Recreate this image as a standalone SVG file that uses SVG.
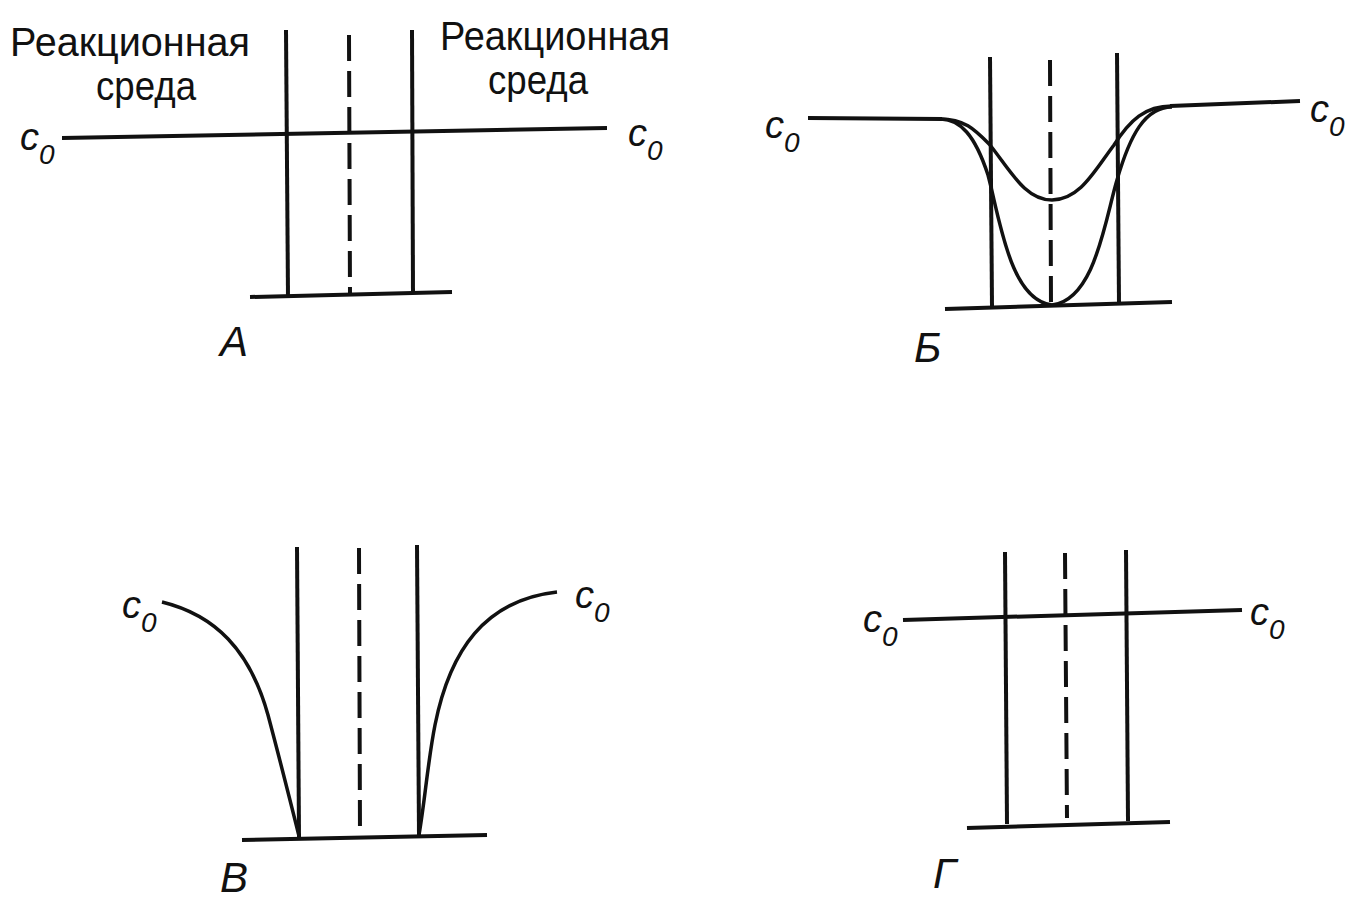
<svg xmlns="http://www.w3.org/2000/svg" width="1350" height="899" viewBox="0 0 1350 899">
<style>
.ln{stroke:#111;stroke-width:4;fill:none;stroke-linecap:butt}
.cv{stroke:#111;stroke-width:3.5;fill:none}
.ds{stroke:#111;stroke-width:4;fill:none;stroke-dasharray:26 10}
.t{font-family:"Liberation Sans",Arial,sans-serif;font-size:40px;fill:#111}
.c{font-family:"Liberation Sans",Arial,sans-serif;font-size:38px;font-style:italic;fill:#111}
.s{font-size:28px}
.lab{font-family:"Liberation Sans",Arial,sans-serif;font-size:42px;font-style:italic;fill:#111}
</style>
<rect width="1350" height="899" fill="#fff"/>
<g id="panelA">
  <text class="t" x="10" y="56" textLength="240" lengthAdjust="spacingAndGlyphs">Реакционная</text>
  <text class="t" x="96" y="100" textLength="100" lengthAdjust="spacingAndGlyphs">среда</text>
  <text class="t" x="440" y="50" textLength="230" lengthAdjust="spacingAndGlyphs">Реакционная</text>
  <text class="t" x="488" y="94" textLength="100" lengthAdjust="spacingAndGlyphs">среда</text>
  <text class="c" x="20" y="150">c<tspan class="s" dy="14">0</tspan></text>
  <text class="c" x="628" y="146">c<tspan class="s" dy="14">0</tspan></text>
  <line class="ln" x1="62" y1="138" x2="607" y2="128"/>
  <line class="ln" x1="286" y1="30" x2="288" y2="297"/>
  <line class="ds" x1="349" y1="35" x2="350" y2="296"/>
  <line class="ln" x1="412" y1="30" x2="413" y2="294"/>
  <line class="ln" x1="250" y1="297" x2="452" y2="292"/>
  <text class="lab" x="220" y="356">А</text>
</g>
<g id="panelB">
  <text class="c" x="765" y="138">c<tspan class="s" dy="14">0</tspan></text>
  <text class="c" x="1310" y="122">c<tspan class="s" dy="14">0</tspan></text>
  <line class="ln" x1="808" y1="118" x2="942" y2="119"/>
  <line class="ln" x1="1170" y1="106" x2="1300" y2="101"/>
  <line class="ln" x1="990" y1="57" x2="992" y2="306"/>
  <line class="ds" x1="1050" y1="60" x2="1051" y2="305"/>
  <line class="ln" x1="1117" y1="53" x2="1119" y2="304"/>
  <line class="ln" x1="945" y1="309" x2="1172" y2="302"/>
  <path class="cv" d="M940,119 C965,119 975,130 990,145 C1010,170 1025,200 1052,200 C1080,200 1095,170 1114,145 C1130,120 1145,106 1172,106"/>
  <path class="cv" d="M940,119 C960,119 975,135 988,175 C1000,220 1010,300 1052,305 C1095,300 1105,220 1117,180 C1130,135 1145,107 1172,107"/>
  <text class="lab" x="914" y="362">Б</text>
</g>
<g id="panelC">
  <text class="c" x="122" y="618">c<tspan class="s" dy="14">0</tspan></text>
  <text class="c" x="575" y="608">c<tspan class="s" dy="14">0</tspan></text>
  <line class="ln" x1="297" y1="547" x2="299" y2="837"/>
  <line class="ds" x1="359" y1="548" x2="360" y2="835"/>
  <line class="ln" x1="417" y1="545" x2="419" y2="835"/>
  <line class="ln" x1="242" y1="840" x2="487" y2="835"/>
  <path class="cv" d="M162,602 C215,615 250,650 268,715 C280,760 290,800 299,836"/>
  <path class="cv" d="M419,835 C425,800 428,760 435,725 C450,650 485,600 557,592"/>
  <text class="lab" x="220" y="892">В</text>
</g>
<g id="panelD">
  <text class="c" x="863" y="632">c<tspan class="s" dy="14">0</tspan></text>
  <text class="c" x="1250" y="625">c<tspan class="s" dy="14">0</tspan></text>
  <line class="ln" x1="903" y1="620" x2="1242" y2="610"/>
  <line class="ln" x1="1005" y1="552" x2="1007" y2="824"/>
  <line class="ds" x1="1065" y1="553" x2="1067" y2="818"/>
  <line class="ln" x1="1126" y1="550" x2="1128" y2="821"/>
  <line class="ln" x1="967" y1="828" x2="1170" y2="822"/>
  <text class="lab" x="933" y="888">Г</text>
</g>
</svg>
